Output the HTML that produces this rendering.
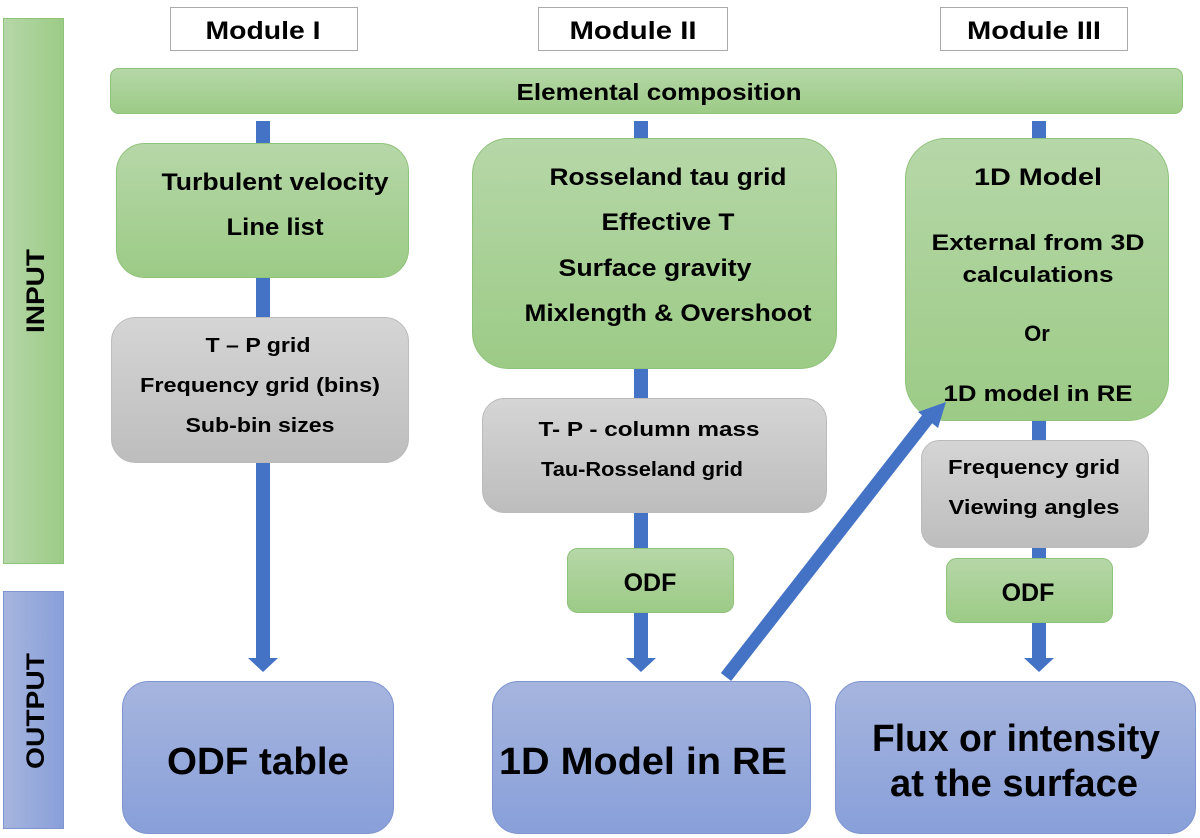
<!DOCTYPE html>
<html><head><meta charset="utf-8"><style>
html,body{margin:0;padding:0;background:#fff;}
svg{display:block;}
text{font-family:"Liberation Sans",sans-serif;font-weight:bold;fill:#000;text-anchor:middle;}
</style></head><body>
<svg width="1200" height="838" viewBox="0 0 1200 838" xmlns="http://www.w3.org/2000/svg">
<defs>
<linearGradient id="g" x1="0" y1="0" x2="0" y2="1"><stop offset="0" stop-color="#b6d7a8"/><stop offset="1" stop-color="#9ccb86"/></linearGradient>
<linearGradient id="gh" x1="0" y1="0" x2="1" y2="0"><stop offset="0" stop-color="#b6d7a8"/><stop offset="1" stop-color="#9ccb86"/></linearGradient>
<linearGradient id="gr" x1="0" y1="0" x2="0" y2="1"><stop offset="0" stop-color="#d5d5d5"/><stop offset="1" stop-color="#bdbdbd"/></linearGradient>
<linearGradient id="b" x1="0" y1="0" x2="0" y2="1"><stop offset="0" stop-color="#a6b5de"/><stop offset="1" stop-color="#889fd9"/></linearGradient>
<linearGradient id="bh" x1="0" y1="0" x2="1" y2="0"><stop offset="0" stop-color="#a6b5de"/><stop offset="1" stop-color="#889fd9"/></linearGradient>
</defs>
<rect x="3.5" y="18.5" width="60" height="545" fill="url(#gh)" stroke="#8fc27a"/>
<text transform="translate(44,291) rotate(-90)" font-size="25" textLength="84" lengthAdjust="spacingAndGlyphs">INPUT</text>
<rect x="3.5" y="591.5" width="60" height="237" fill="url(#bh)" stroke="#7e95d0"/>
<text transform="translate(44,711) rotate(-90)" font-size="25" textLength="116" lengthAdjust="spacingAndGlyphs">OUTPUT</text>
<rect x="170.5" y="7.5" width="187" height="43" fill="#fff" stroke="#aaa"/>
<text x="263" y="39" font-size="25" textLength="115" lengthAdjust="spacingAndGlyphs">Module I</text>
<rect x="538.5" y="7.5" width="189" height="43" fill="#fff" stroke="#aaa"/>
<text x="633" y="39" font-size="25" textLength="127" lengthAdjust="spacingAndGlyphs">Module II</text>
<rect x="940.5" y="7.5" width="187" height="43" fill="#fff" stroke="#aaa"/>
<text x="1034" y="39" font-size="25" textLength="134" lengthAdjust="spacingAndGlyphs">Module III</text>
<rect x="256" y="121" width="14" height="540" fill="#4472c4"/>
<polygon points="248,658 278,658 263,672" fill="#4472c4"/>
<rect x="634" y="121" width="14" height="540" fill="#4472c4"/>
<polygon points="626,658 656,658 641,672" fill="#4472c4"/>
<rect x="1032" y="121" width="14" height="540" fill="#4472c4"/>
<polygon points="1024,658 1054,658 1039,672" fill="#4472c4"/>
<rect x="110.5" y="68.5" width="1072" height="45" rx="8" fill="url(#g)" stroke="#8fc27a"/>
<text x="659" y="100" font-size="23" textLength="285" lengthAdjust="spacingAndGlyphs">Elemental composition</text>
<rect x="116.5" y="143.5" width="292" height="134" rx="28" fill="url(#g)" stroke="#8fc27a"/>
<text x="275" y="190" font-size="24" textLength="227" lengthAdjust="spacingAndGlyphs">Turbulent velocity</text>
<text x="275" y="235" font-size="24" textLength="97" lengthAdjust="spacingAndGlyphs">Line list</text>
<rect x="111.5" y="317.5" width="297" height="145" rx="24" fill="url(#gr)" stroke="#bbb"/>
<text x="258" y="352" font-size="20" textLength="105" lengthAdjust="spacingAndGlyphs">T – P grid</text>
<text x="260" y="392" font-size="20" textLength="240" lengthAdjust="spacingAndGlyphs">Frequency grid (bins)</text>
<text x="260" y="432" font-size="20" textLength="149" lengthAdjust="spacingAndGlyphs">Sub-bin sizes</text>
<rect x="122.5" y="681.5" width="271" height="152" rx="26" fill="url(#b)" stroke="#7e95d0"/>
<text x="258" y="774" font-size="38" textLength="182" lengthAdjust="spacingAndGlyphs">ODF table</text>
<rect x="472.5" y="138.5" width="364" height="230" rx="36" fill="url(#g)" stroke="#8fc27a"/>
<text x="668" y="185" font-size="24" textLength="237" lengthAdjust="spacingAndGlyphs">Rosseland tau grid</text>
<text x="668" y="230" font-size="24" textLength="133" lengthAdjust="spacingAndGlyphs">Effective T</text>
<text x="655" y="276" font-size="24" textLength="193" lengthAdjust="spacingAndGlyphs">Surface gravity</text>
<text x="668" y="321" font-size="24" textLength="287" lengthAdjust="spacingAndGlyphs">Mixlength &amp; Overshoot</text>
<rect x="482.5" y="398.5" width="344" height="114" rx="22" fill="url(#gr)" stroke="#bbb"/>
<text x="649" y="436" font-size="20" textLength="221" lengthAdjust="spacingAndGlyphs">T- P - column mass</text>
<text x="642" y="476" font-size="20" textLength="202" lengthAdjust="spacingAndGlyphs">Tau-Rosseland grid</text>
<rect x="567.5" y="548.5" width="166" height="64" rx="10" fill="url(#g)" stroke="#8fc27a"/>
<text x="650" y="591" font-size="25">ODF</text>
<rect x="492.5" y="681.5" width="318" height="152" rx="26" fill="url(#b)" stroke="#7e95d0"/>
<text x="643" y="774" font-size="38" textLength="288" lengthAdjust="spacingAndGlyphs">1D Model in RE</text>
<rect x="905.5" y="138.5" width="263" height="282" rx="40" fill="url(#g)" stroke="#8fc27a"/>
<text x="1038" y="185" font-size="24" textLength="128" lengthAdjust="spacingAndGlyphs">1D Model</text>
<text x="1038" y="250" font-size="22" textLength="213" lengthAdjust="spacingAndGlyphs">External from 3D</text>
<text x="1038" y="282" font-size="22" textLength="151" lengthAdjust="spacingAndGlyphs">calculations</text>
<text x="1037" y="341" font-size="22">Or</text>
<text x="1038" y="401" font-size="22" textLength="189" lengthAdjust="spacingAndGlyphs">1D model in RE</text>
<rect x="921.5" y="440.5" width="227" height="107" rx="18" fill="url(#gr)" stroke="#bbb"/>
<text x="1034" y="474" font-size="20" textLength="172" lengthAdjust="spacingAndGlyphs">Frequency grid</text>
<text x="1034" y="514" font-size="20" textLength="171" lengthAdjust="spacingAndGlyphs">Viewing angles</text>
<rect x="946.5" y="558.5" width="166" height="64" rx="10" fill="url(#g)" stroke="#8fc27a"/>
<text x="1028" y="601" font-size="25">ODF</text>
<rect x="835.5" y="681.5" width="360" height="152" rx="26" fill="url(#b)" stroke="#7e95d0"/>
<text x="1016" y="751" font-size="38" textLength="288" lengthAdjust="spacingAndGlyphs">Flux or intensity</text>
<text x="1014" y="796" font-size="38" textLength="248" lengthAdjust="spacingAndGlyphs">at the surface</text>
<line x1="726" y1="677" x2="932" y2="413" stroke="#4472c4" stroke-width="13"/>
<polygon points="946,402 918,412 938,428" fill="#4472c4"/>
</svg>
</body></html>
